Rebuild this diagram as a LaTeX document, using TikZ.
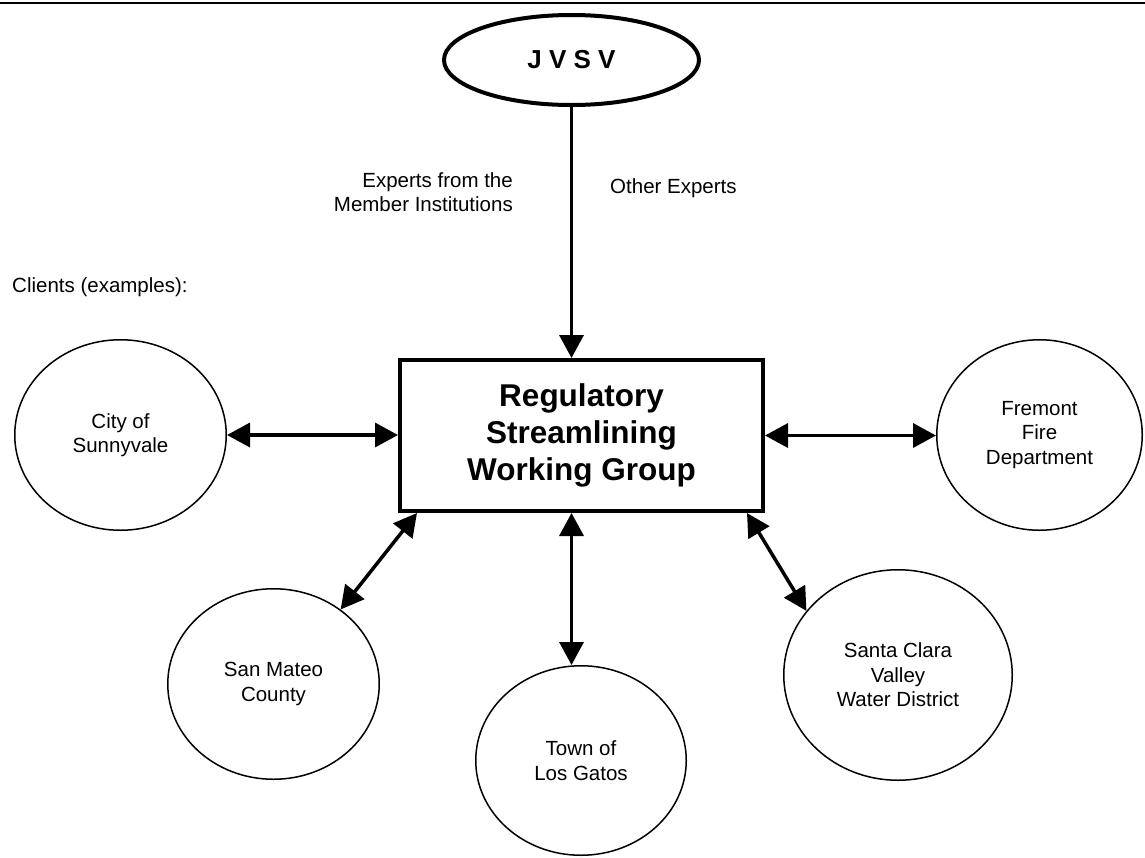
\documentclass[tikz,border=0pt]{standalone}
\usepackage{fontspec}
\setmainfont{Liberation Sans}
\usetikzlibrary{arrows.meta,shapes.geometric}
\begin{document}
\begin{tikzpicture}[x=1pt,y=-1pt,
  client/.style={ellipse,draw,line width=1.5pt,inner sep=0pt,align=center,font=\fontsize{20.5}{24.5}\selectfont},
  lbl/.style={inner sep=0pt,font=\fontsize{20.5}{24.5}\selectfont},
  tip/.style={Triangle[length=23pt,width=24pt]},
  link/.style={line width=3.5pt,-{Triangle[length=23pt,width=24pt]}},
  dlink/.style={line width=3.5pt,{Triangle[length=23pt,width=24pt]}-{Triangle[length=23pt,width=24pt]}}]
\useasboundingbox (0,0) rectangle (1145,857);
\draw[line width=2pt] (0,3) -- (1145,3);

\node[ellipse,draw,line width=4pt,minimum width=255pt,minimum height=90pt,inner sep=0pt,
  font=\bfseries\fontsize{26}{30}\selectfont] (jv) at (571.5,60) {J V S V};

\node[draw,line width=4pt,minimum width=363pt,minimum height=151pt,inner sep=0pt,align=center,
  font=\bfseries\fontsize{31.5}{37}\selectfont] (box) at (581.5,435.5) {Regulatory\\Streamlining\\Working Group};

\node[client,minimum width=211.5pt,minimum height=190.5pt] (city) at (120.5,435) {City of\\Sunnyvale};
\node[client,minimum width=211.5pt,minimum height=190.5pt] (sm) at (273.5,684) {San Mateo\\County};
\node[client,minimum width=210.5pt,minimum height=189.5pt] (town) at (581,760.5) {Town of\\Los Gatos};
\node[client,minimum width=228.5pt,minimum height=210.5pt] (sc) at (898,675) {Santa Clara\\Valley\\Water District};
\node[client,minimum width=205.5pt,minimum height=190.5pt] (fre) at (1039.5,435) {Fremont\\Fire\\Department};

\node[lbl,align=right,anchor=east] (e1) at (513,192) {Experts from the\\Member Institutions};
\node[lbl,anchor=west] (e2) at (610,188) {Other Experts};
\node[lbl,anchor=west] (cl) at (12,287) {Clients (examples):};

\draw[link] (jv.south) -- (jv.south |- box.north);
\draw[dlink] (city.east) -- (city.east -| box.west);
\draw[dlink] (box.east) -- (box.east -| fre.west);
\coordinate (bm) at (jv.south |- box.south);
\draw[dlink] (bm) -- (bm |- town.north);
\coordinate (bl) at ([xshift=19pt]box.south west);
\draw[dlink] (bl) -- (sm.48);
\coordinate (br) at ([xshift=-18pt]box.south east);
\draw[dlink] (br) -- (sc.145);
\end{tikzpicture}
\end{document}
